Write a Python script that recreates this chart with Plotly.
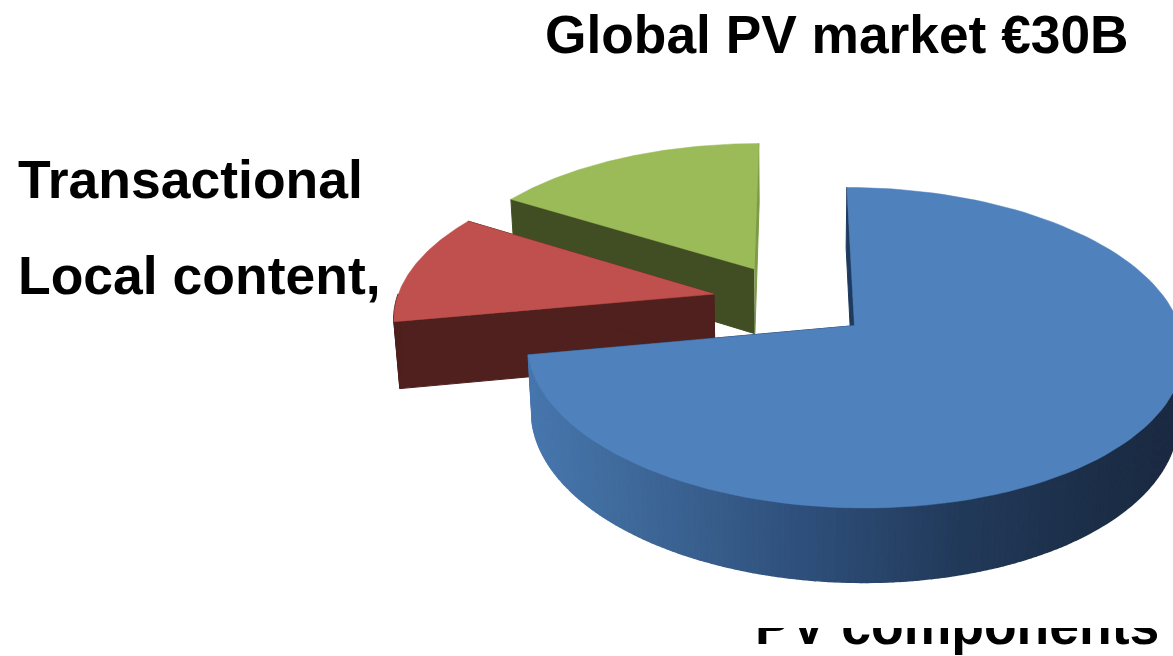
import numpy as np
import plotly.graph_objects as go

# ---- data
categories = ["PV components", "Local content,", "Transactional"]
values = [72.1, 11.7, 16.2]
title_text = "Global PV market €30B"

# ---- styles
top_colors = ["#4F81BD", "#C0504D", "#9BBB59"]
side_colors = ["#1F3A5F", "#4F201D", "#414E23"]
end_colors = ["#1F3A5F", "#4F201D", "#7D9A45"]
rim_stops_x = [520, 640, 800, 960, 1100, 1173]
rim_stops_rgb = [(72, 120, 176), (62, 104, 152), (47, 80, 124), (34, 58, 90), (28, 46, 72), (27, 42, 66)]

# ---- projection of the tilted, exploded pie
CX, CY, FX, FY, PERSP, DROP, SINK, EXPLODE = 792, 301, 318, 150.5, 0.135, 67, 0.015, 0.25


def project(X, Y, lower):
    den = 1 + PERSP * Y + SINK * lower
    return CX + FX * X / den, CY - (FY * Y - DROP * lower) / den


def arc(start, end, ox, oy, n):
    t = np.radians(np.linspace(start, end, n))
    return ox + np.sin(t), oy + np.cos(t)


def poly(xs, ys, color, lw=1.0):
    return go.Scatter(x=list(xs), y=list(ys), mode="lines", fill="toself", fillcolor=color,
                      line=dict(color=color, width=lw), hoverinfo="skip", showlegend=False)


def rim_color(x):
    rgb = [np.interp(x, rim_stops_x, [c[i] for c in rim_stops_rgb]) for i in range(3)]
    return "rgb(%d,%d,%d)" % tuple(int(v) for v in rgb)


fig = go.Figure()
total = sum(values)
angles = np.cumsum([0] + [v / total * 360 for v in values])
slices = []
for i in range(len(values)):
    a0, a1 = angles[i], angles[i + 1]
    mid = np.radians((a0 + a1) / 2)
    slices.append((i, a0, a1, EXPLODE * np.sin(mid), EXPLODE * np.cos(mid)))


def radial(ox, oy, ang, color):
    X, Y = ox + np.sin(np.radians(ang)), oy + np.cos(np.radians(ang))
    p = [project(ox, oy, 0), project(X, Y, 0), project(X, Y, 1), project(ox, oy, 1)]
    return poly([q[0] for q in p], [q[1] for q in p], color)


for i, a0, a1, ox, oy in [slices[2], slices[1], slices[0]]:
    # flat faces of the cut
    fig.add_trace(radial(ox, oy, a0, side_colors[i]))
    fig.add_trace(radial(ox, oy, a1, end_colors[i]))
    # outer rim, front-facing part only
    lo, hi = max(a0, 90), min(a1, 270)
    if hi > lo:
        steps = np.linspace(lo, hi, max(2, int((hi - lo) / 1.0) + 1))
        for s0, s1 in zip(steps[:-1], steps[1:]):
            ax, ay = arc(s0, s1, ox, oy, 3)
            tx, ty = project(ax, ay, 0)
            bx, by = project(ax, ay, 1)
            col = rim_color(tx.mean()) if i == 0 else side_colors[i]
            fig.add_trace(poly(np.r_[tx, bx[::-1]], np.r_[ty, by[::-1]], col, 1.5))
    # top face
    ax, ay = arc(a0, a1, ox, oy, 120)
    tx, ty = project(ax, ay, 0)
    ox_s, oy_s = project(ox, oy, 0)
    fig.add_trace(poly(np.r_[ox_s, tx, ox_s], np.r_[oy_s, ty, oy_s], top_colors[i], 0.5))


def label(text, x, y, size, pos="middle right"):
    fig.add_trace(go.Scatter(x=[x], y=[y], mode="text", text=[text], textposition=pos,
                             textfont=dict(family="Liberation Sans", size=size, color="black", weight="bold"),
                             hoverinfo="skip", showlegend=False, cliponaxis=False))


label(title_text, 545, 40, 53.3)
label(categories[2], 18, 185, 53.5)
label(categories[1], 18, 281, 53.5)
label(categories[0], 755, 631, 53.5)
# the bottom label is cut off along its top in the reference
fig.add_trace(poly([700, 1173, 1173, 700], [600, 600, 628, 628], "#FFFFFF", 0))

fig.update_layout(
    width=1173, height=656, margin=dict(l=0, r=0, t=0, b=0),
    paper_bgcolor="white", plot_bgcolor="white", showlegend=False,
    xaxis=dict(range=[0, 1173], visible=False, fixedrange=True),
    yaxis=dict(range=[656, 0], visible=False, fixedrange=True),
)
fig.write_html("out.html", config=dict(displayModeBar=False),
               post_script="document.body.style.margin='0';document.documentElement.style.overflow='hidden';")
